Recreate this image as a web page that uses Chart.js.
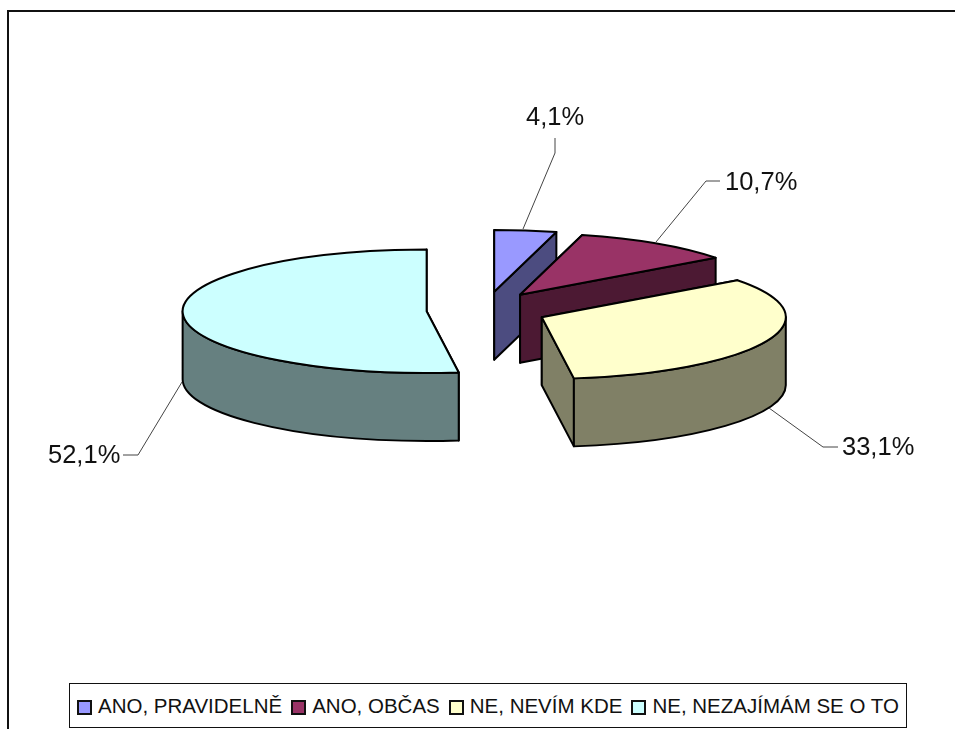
<!DOCTYPE html>
<html>
<head>
<meta charset="utf-8">
<style>
    html, body { margin: 0; padding: 0; background: #fff; overflow: hidden; }
    body { width: 955px; height: 729px; position: relative; font-family: "Liberation Sans", Arial, sans-serif; }
    #frame { position: absolute; left: 7px; top: 10px; right: 0; bottom: 0; border-top: 2px solid #111; border-left: 2px solid #111; }
    #chart { position: absolute; left: 0; top: 0; }
    #legend { position: absolute; left: 69px; top: 683px; width: 829px; height: 43px; border: 1px solid #111; background: #fff;
        display: flex; align-items: center; padding-left: 7px; box-sizing: content-box; font-size: 20.5px; color: #111; white-space: nowrap; }
    .item { display: inline-flex; align-items: center; margin-right: 9px; }
    .swatch { width: 11px; height: 11px; border: 2px solid #111; margin-right: 6px; margin-top: 3px; }
</style>
</head>
<body>
<div id="frame"></div>
<canvas id="chart" width="955" height="729"></canvas>
<div id="legend"></div>
<script src="https://cdn.jsdelivr.net/npm/chart.js@4"></script>
<script>
const categories = ['ANO, PRAVIDELNĚ', 'ANO, OBČAS', 'NE, NEVÍM KDE', 'NE, NEZAJÍMÁM SE O TO'];
const shares = [4.1, 10.7, 33.1, 52.1];
const topColors = ['#9999FF', '#993366', '#FFFFCC', '#CCFFFF'];
const sideColors = ['#4C4C80', '#4C1933', '#808066', '#668080'];

const SQUASH = 0.253;       // height/width of the tilted ellipse
const DEPTH = 68;           // wall height
const EXPLODE = 60;         // how far slices are pulled out
const EXPLODE_SQUASH = 0.308;

// label text position (left, baseline) and leader line per slice
const labelSpots = [
    { x: 526, y: 125, leader: [[523, 229], [555, 153], [555, 138]] },
    { x: 725, y: 190, leader: [[656, 242], [706, 181], [720, 181]] },
    { x: 842, y: 455, leader: [[769, 408], [823, 447], [838, 447]] },
    { x: 48, y: 463, leader: [[182, 382], [138, 455], [123, 455]] }
];

function formatShare(v) {
    return v.toFixed(1).replace('.', ',') + '%';
}

function drawFace(ctx, c, r, angle, fill) {
    const px = c.x + Math.cos(angle) * r;
    const py = c.y + Math.sin(angle) * r * SQUASH;
    ctx.beginPath();
    ctx.moveTo(c.x, c.y);
    ctx.lineTo(px, py);
    ctx.lineTo(px, py + DEPTH);
    ctx.lineTo(c.x, c.y + DEPTH);
    ctx.closePath();
    ctx.fillStyle = fill;
    ctx.fill();
    ctx.stroke();
}

function drawWall(ctx, c, r, start, end, fill) {
    const from = Math.max(start, 0);
    const to = Math.min(end, Math.PI);
    if (to <= from) return;
    ctx.beginPath();
    ctx.ellipse(c.x, c.y, r, r * SQUASH, 0, from, to);
    ctx.ellipse(c.x, c.y + DEPTH, r, r * SQUASH, 0, to, from, true);
    ctx.closePath();
    ctx.fillStyle = fill;
    ctx.fill();
    ctx.stroke();
}

function drawTop(ctx, c, r, start, end, fill) {
    ctx.beginPath();
    ctx.moveTo(c.x, c.y);
    ctx.ellipse(c.x, c.y, r, r * SQUASH, 0, start, end);
    ctx.closePath();
    ctx.fillStyle = fill;
    ctx.fill();
    ctx.stroke();
}

// the library has no 3D pie: take its arcs and draw them tilted and extruded
const tiltedPie = {
    id: 'tiltedPie',
    beforeDatasetDraw(chart, args) {
        const ctx = chart.ctx;
        const arcs = chart.getDatasetMeta(args.index).data;
        ctx.save();
        ctx.lineWidth = 2;
        ctx.lineJoin = 'round';
        ctx.strokeStyle = '#000';
        arcs.forEach((arc, i) => {
            const mid = (arc.startAngle + arc.endAngle) / 2;
            const c = {
                x: arc.x + Math.cos(mid) * EXPLODE,
                y: arc.y + Math.sin(mid) * EXPLODE * EXPLODE_SQUASH
            };
            const r = arc.outerRadius;
            drawFace(ctx, c, r, arc.startAngle, sideColors[i]);
            drawFace(ctx, c, r, arc.endAngle, sideColors[i]);
            drawWall(ctx, c, r, arc.startAngle, arc.endAngle, sideColors[i]);
            drawTop(ctx, c, r, arc.startAngle, arc.endAngle, topColors[i]);
        });
        ctx.lineWidth = 1;
        ctx.strokeStyle = '#444';
        ctx.fillStyle = '#111';
        ctx.font = '25.5px "Liberation Sans", Arial, sans-serif';
        ctx.textBaseline = 'alphabetic';
        labelSpots.forEach((spot, i) => {
            ctx.beginPath();
            spot.leader.forEach((p, j) => {
                if (j === 0) ctx.moveTo(p[0], p[1]);
                else ctx.lineTo(p[0], p[1]);
            });
            ctx.stroke();
            ctx.fillText(formatShare(shares[i]), spot.x, spot.y);
        });
        ctx.restore();
        return false;
    }
};

new Chart(document.getElementById('chart'), {
    type: 'pie',
    data: {
        labels: categories,
        datasets: [{ data: shares, backgroundColor: topColors }]
    },
    options: {
        responsive: false,
        animation: false,
        radius: 244,
        layout: { padding: { left: 18, bottom: 109 } },
        plugins: { legend: { display: false }, tooltip: { enabled: false } }
    },
    plugins: [tiltedPie]
});

document.getElementById('legend').innerHTML = categories.map((name, i) =>
    `<span class="item"><span class="swatch" style="background:${topColors[i]}"></span>${name}</span>`
).join('');
</script>
</body>
</html>
